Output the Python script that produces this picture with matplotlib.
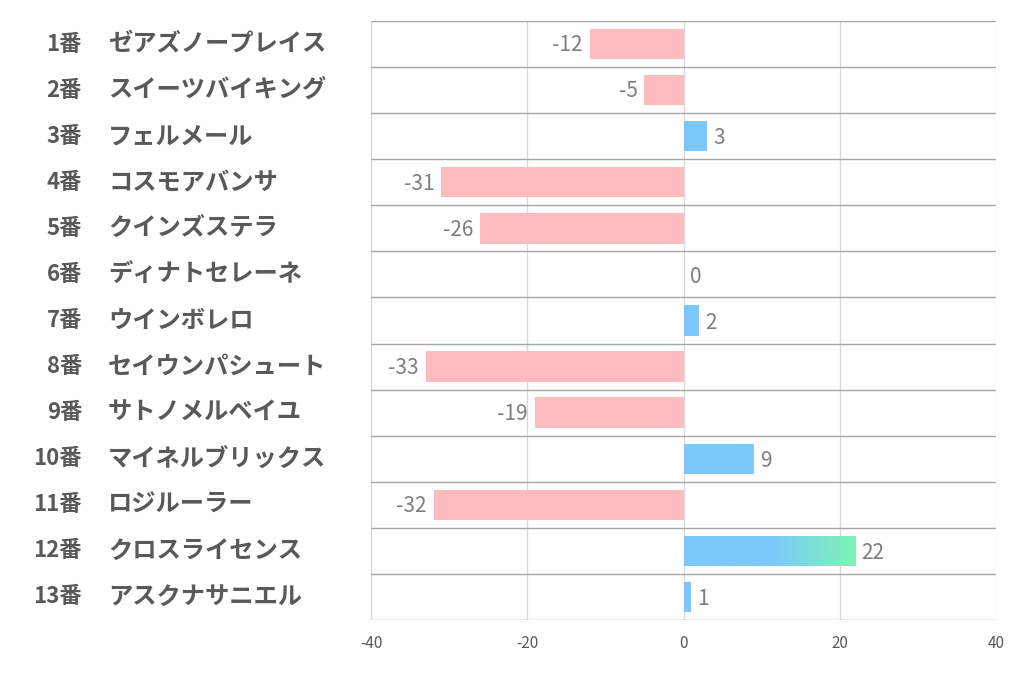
import matplotlib
matplotlib.use("Agg")
import matplotlib.pyplot as plt
import numpy as np
from matplotlib.colors import LinearSegmentedColormap

plt.rcParams['font.family'] = ['Noto Sans CJK JP', 'DejaVu Sans']

numbers = ["1番", "2番", "3番", "4番", "5番", "6番", "7番", "8番", "9番", "10番", "11番", "12番", "13番"]
names = ["ゼアズノープレイス", "スイーツバイキング", "フェルメール", "コスモアバンサ", "クインズステラ",
         "ディナトセレーネ", "ウインボレロ", "セイウンパシュート", "サトノメルベイユ", "マイネルブリックス",
         "ロジルーラー", "クロスライセンス", "アスクナサニエル"]
values = [-12, -5, 3, -31, -26, 0, 2, -33, -19, 9, -32, 22, 1]
xticks = [-40, -20, 0, 20, 40]

pink = "#FFBBBD"
blue = "#7CC8FC"
green = "#7CF5B5"
grad = LinearSegmentedColormap.from_list("g", [(0, blue), (0.5, blue), (1, green)])

fig = plt.figure(figsize=(10.22, 6.78), dpi=100)
ax = fig.add_axes([371 / 1022, 1 - 620 / 678, 625 / 1022, 599 / 678])

n = len(values)
ax.set_xlim(-40, 40)
ax.set_ylim(n - 0.5, -0.5)

h = 0.66
for i, v in enumerate(values):
    if v < 0:
        ax.barh(i, v, height=h, color=pink, zorder=2)
        ax.text(v - 0.9, i + 0.03, str(v), ha="right", va="center", fontsize=15, color="#7f7f7f", zorder=3)
    else:
        if v > 10:
            bars = ax.barh(i, v, height=h, color="none", zorder=2)
            im = ax.imshow(np.linspace(0, 1, 256).reshape(1, -1), cmap=grad, aspect="auto",
                           extent=[0, v, i + h / 2, i - h / 2], zorder=2)
            im.set_clip_path(bars[0])
        elif v > 0:
            ax.barh(i, v, height=h, color=blue, zorder=2)
        ax.text(v + 0.8, i + 0.05, str(v), ha="left", va="center", fontsize=15, color="#7f7f7f", zorder=3)

# row separators and gridlines
for k in range(n + 1):
    ax.axhline(k - 0.5, color="#a6a6a6", lw=1, zorder=1)
for t in xticks:
    ax.axvline(t, color="#d9d9d9", lw=1, zorder=0)

for s in ax.spines.values():
    s.set_visible(False)
ax.set_xticks(xticks)
ax.set_xticklabels([str(t) for t in xticks], fontsize=11, color="#595959")
ax.tick_params(axis="x", length=0, pad=11)
ax.set_yticks([])

for i in range(n):
    yy = (21 + (i + 0.5) * 599 / n)
    fig.text(82 / 1022, 1 - yy / 678, numbers[i], ha="right", va="center", fontsize=16,
             fontweight="bold", color="#595959")
    fig.text(108 / 1022, 1 - yy / 678, names[i], ha="left", va="center", fontsize=17.5,
             fontweight="bold", color="#595959")

fig.savefig("out.png", dpi=100, facecolor="white")
